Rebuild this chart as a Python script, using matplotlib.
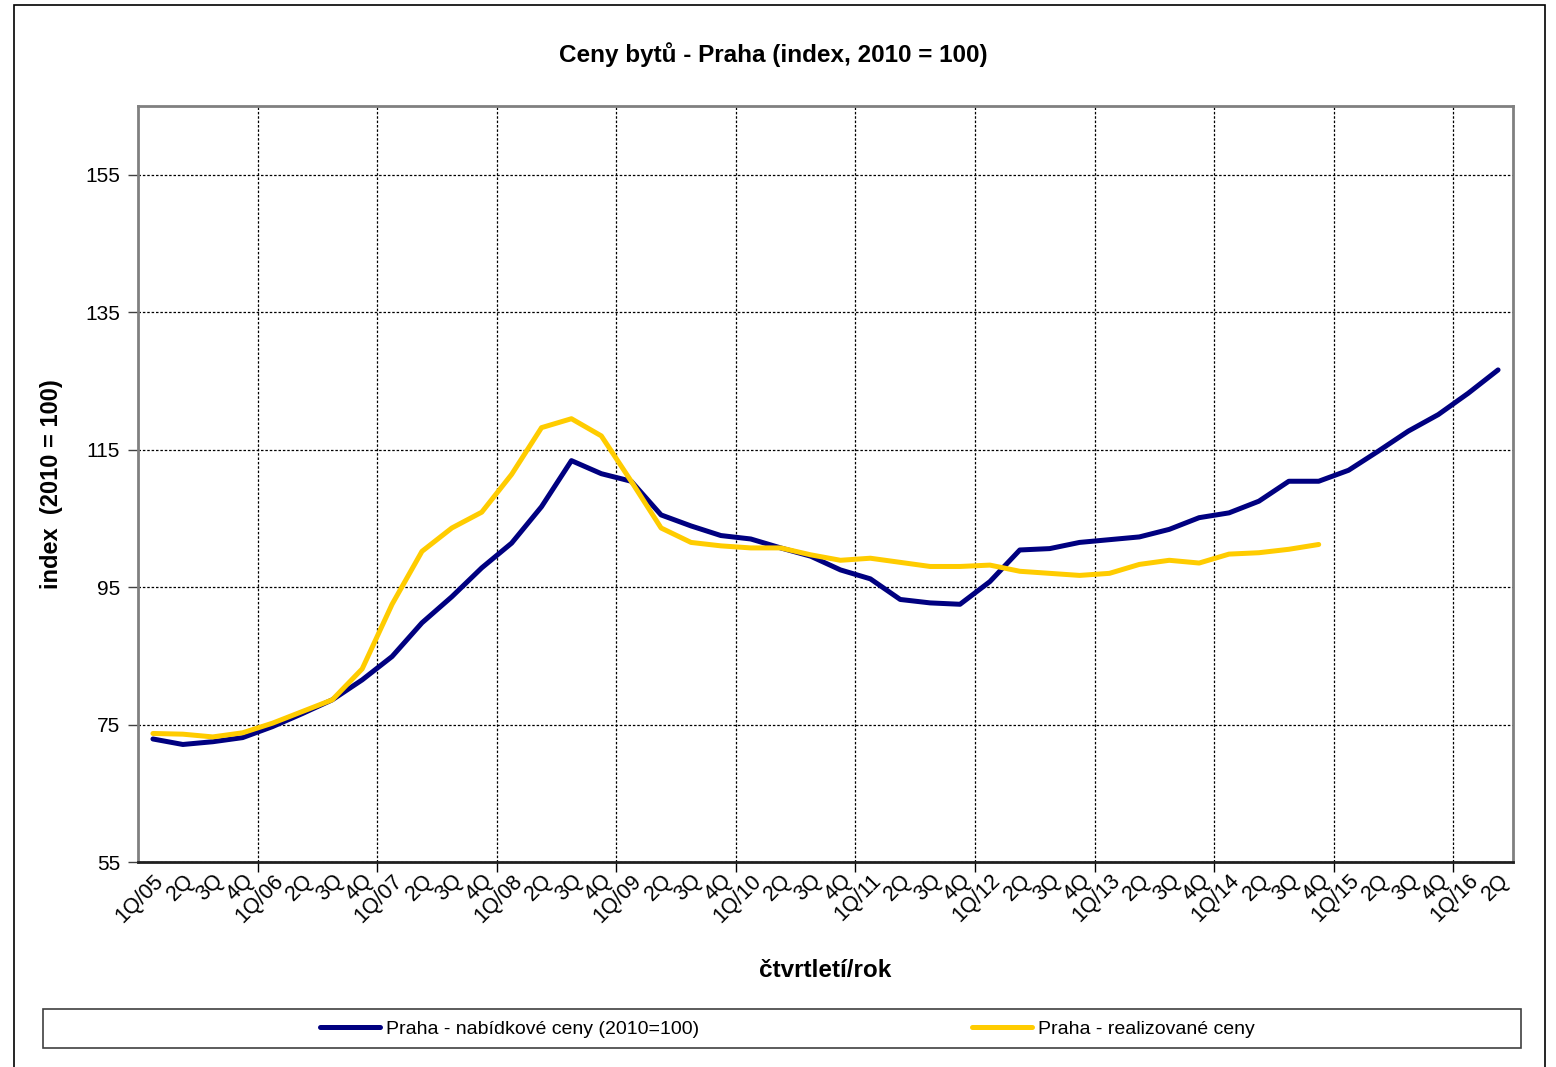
import matplotlib
matplotlib.use('Agg')
from matplotlib import pyplot as plt
from matplotlib.patches import Rectangle

plt.rcParams['font.family'] = ['Liberation Sans', 'DejaVu Sans']

# quarters 1Q/05 .. 2Q/16
years = ['05', '06', '07', '08', '09', '10', '11', '12', '13', '14', '15', '16']
quarters = []
for y in years:
    quarters += ['1Q/' + y, '2Q', '3Q', '4Q']
quarters = quarters[:46]

# Praha - nabidkove ceny (2010=100)
offer = [72.9, 72.1, 72.5, 73.1, 74.7, 76.6, 78.6, 81.5, 84.9, 89.8,
         93.6, 97.8, 101.4, 106.7, 113.4, 111.5, 110.4, 105.5, 103.9, 102.5,
         102.0, 100.7, 99.5, 97.5, 96.2, 93.2, 92.7, 92.5, 95.8, 100.4,
         100.6, 101.5, 101.9, 102.3, 103.4, 105.1, 105.8, 107.5, 110.4, 110.4,
         112.0, 114.8, 117.7, 120.1, 123.2, 126.6]
# Praha - realizovane ceny
real = [73.7, 73.6, 73.2, 73.8, 75.2, 76.9, 78.6, 83.1, 92.5, 100.2,
        103.6, 105.9, 111.4, 118.2, 119.5, 117.0, 110.4, 103.6, 101.5, 101.0,
        100.7, 100.7, 99.7, 98.9, 99.2, 98.6, 98.0, 98.0, 98.2, 97.3,
        97.0, 96.7, 97.0, 98.3, 98.9, 98.5, 99.8, 100.0, 100.5, 101.2]

W, H = 1556, 1067
fig = plt.figure(figsize=(W / 100, H / 100), dpi=100)
fig.patch.set_facecolor('white')

# outer chart frame
fig.patches.append(Rectangle((14 / W, -0.01), (1545 - 14) / W, 1.01 - 5 / H,
                             transform=fig.transFigure, fill=False,
                             edgecolor='black', linewidth=1.2))

ax = fig.add_axes([138 / W, (H - 862) / H, 1375 / W, (862 - 106) / H])

x1 = list(range(len(offer)))
x2 = list(range(len(real)))
ax.plot(x1, offer, color='#000080', linewidth=3.6, solid_capstyle='round',
        label='Praha - nabídkové ceny (2010=100)', zorder=3)
ax.plot(x2, real, color='#FFCC00', linewidth=3.6, solid_capstyle='round',
        label='Praha - realizované ceny', zorder=3)

ax.set_xlim(-0.5, len(quarters) - 0.5)
ax.set_ylim(55, 165)
ax.set_yticks([55, 75, 95, 115, 135, 155])
ax.tick_params(axis='y', labelsize=15, length=7, width=1, direction='out',
               color='#404040', pad=6)

# labels at quarter centres, tick marks at year boundaries
ax.set_xticks(x1)
ax.set_xticklabels(quarters, rotation=45, ha='right', va='top',
                   rotation_mode='anchor', fontsize=15.5)
ax.tick_params(axis='x', which='major', length=0, pad=6)
ax.set_xticks([i + 3.5 for i in range(0, 44, 4)], minor=True)
ax.tick_params(axis='x', which='minor', length=7, width=1, direction='out')

ax.grid(True, axis='y', which='major', color='black', linestyle=(0, (2, 1.5)),
        linewidth=0.9)
ax.grid(True, axis='x', which='minor', color='black', linestyle=(0, (2, 1.5)),
        linewidth=0.9)
ax.set_axisbelow(True)

for s in ['top', 'right', 'left']:
    ax.spines[s].set_color('#808080')
    ax.spines[s].set_linewidth(2)
ax.spines['bottom'].set_color('#202020')
ax.spines['bottom'].set_linewidth(2)

ax.set_ylabel('index  (2010 = 100)', fontsize=17, fontweight='bold')
ax.yaxis.set_label_coords((63 - 138) / 1375, 0.5)
ax.set_xlabel('čtvrtletí/rok', fontsize=17.5, fontweight='bold')
ax.xaxis.set_label_coords(0.5, (862 - 959) / 756)

fig.text(0.497, 1 - 55 / H, 'Ceny bytů - Praha (index, 2010 = 100)',
         ha='center', va='center', fontsize=17.5, fontweight='bold')

# legend box
fig.patches.append(Rectangle((43 / W, (H - 1048) / H), (1521 - 43) / W, 39 / H,
                             transform=fig.transFigure, fill=False,
                             edgecolor='#404040', linewidth=1.2))
h1, h2 = ax.get_lines()
ly = (H - 1029) / H
leg1 = fig.legend(handles=[h1], loc='center left', bbox_to_anchor=(320 / W, ly),
                  frameon=False, fontsize=14, handlelength=3.1,
                  handletextpad=0.3, borderaxespad=0, borderpad=0)
leg2 = fig.legend(handles=[h2], loc='center left', bbox_to_anchor=(972 / W, ly),
                  frameon=False, fontsize=14, handlelength=3.1,
                  handletextpad=0.3, borderaxespad=0, borderpad=0)

plt.savefig('out.png', dpi=100)
